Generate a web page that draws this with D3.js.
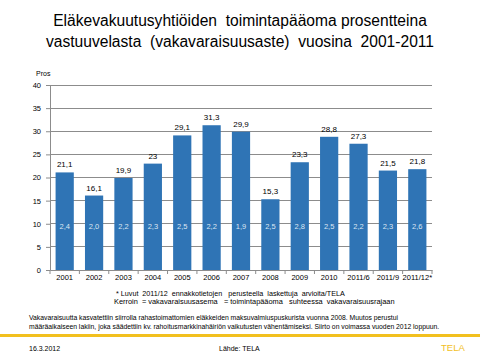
<!DOCTYPE html>
<html><head><meta charset="utf-8">
<script src="https://cdn.jsdelivr.net/npm/d3@7"></script>
<style>body{margin:0;background:#fff}svg{display:block}text{font-family:"Liberation Sans",Arial,sans-serif;white-space:pre}</style>
</head><body>
<svg id="c" width="480" height="360"></svg>
<script>
const categories = ["2001","2002","2003","2004","2005","2006","2007","2008","2009","2010","2011/6","2011/9","2011/12*"];
const values = [21.1,16.1,19.9,23,29.1,31.3,29.9,15.3,23.3,28.8,27.3,21.5,21.8];
const ratios = ["2,4","2,0","2,2","2,3","2,5","2,2","1,9","2,5","2,8","2,5","2,2","2,3","2,6"];
const yTicks = [0,5,10,15,20,25,30,35,40];

const svg = d3.select("#c");
const fmt = v => String(v).replace(".", ",");

const x = d3.scaleBand().domain(categories).range([50, 432]).paddingInner(0.38).paddingOuter(0.19);
const y = d3.scaleLinear().domain([0, 40]).range([270, 85]);

// title
const title = svg.append("text").attr("text-anchor","middle").attr("font-size",15.6).attr("fill","#000");
title.append("tspan").attr("x",240).attr("y",25.5).text("Eläkevakuutusyhtiöiden  toimintapääoma prosentteina");
title.append("tspan").attr("x",240).attr("y",47).text("vastuuvelasta  (vakavaraisuusaste)  vuosina  2001-2011");

// gridlines
svg.append("g").selectAll("line").data(yTicks.filter(d=>d>0)).join("line")
  .attr("x1",50).attr("x2",432).attr("y1",d=>y(d)).attr("y2",d=>y(d))
  .attr("stroke","#8c8c8c").attr("stroke-width",1).attr("shape-rendering","crispEdges");

// bars
svg.append("g").selectAll("rect").data(categories).join("rect")
  .attr("x",d=>x(d)).attr("width",x.bandwidth())
  .attr("y",(d,i)=>y(values[i])).attr("height",(d,i)=>y(0)-y(values[i]))
  .attr("fill","#2f74b5");

// value labels
svg.append("g").selectAll("text").data(categories).join("text")
  .attr("x",d=>x(d)+x.bandwidth()/2).attr("y",(d,i)=>y(values[i])-5)
  .attr("text-anchor","middle").attr("font-size",8).attr("fill","#000")
  .text((d,i)=>fmt(values[i]));

// ratio labels
svg.append("g").selectAll("text").data(categories).join("text")
  .attr("x",d=>x(d)+x.bandwidth()/2).attr("y",y(9.5)+3)
  .attr("text-anchor","middle").attr("font-size",7.5).attr("fill","#dbe6f3")
  .text((d,i)=>ratios[i]);

// y axis
const ya = svg.append("g").attr("transform","translate(50,0)")
  .call(d3.axisLeft(y).tickValues(yTicks).tickSize(4).tickPadding(5));
ya.select(".domain").attr("stroke","#8c8c8c");
ya.selectAll(".tick line").attr("stroke","#8c8c8c");
ya.selectAll("text").attr("font-size",7.5).attr("fill","#000").attr("font-family","Liberation Sans, Arial, sans-serif");

// x axis
const xa = svg.append("g").attr("transform","translate(0,270)")
  .call(d3.axisBottom(x).tickSize(0).tickPadding(5));
xa.select(".domain").attr("stroke","#8c8c8c");
xa.selectAll("text").attr("font-size",7.5).attr("fill","#000").attr("font-family","Liberation Sans, Arial, sans-serif");
// x ticks at band boundaries
const step = x.step();
const edges = categories.map(d=>x(d)-x.paddingInner()*step/2).concat([432]);
svg.append("g").selectAll("line").data(edges).join("line")
  .attr("x1",d=>d).attr("x2",d=>d).attr("y1",270).attr("y2",274)
  .attr("stroke","#8c8c8c");

svg.append("text").attr("x",36).attr("y",76).attr("font-size",7).attr("fill","#000").text("Pros");

// footnotes
svg.append("text").attr("x",116).attr("y",296).attr("font-size",7.2).attr("fill","#000")
  .text("* Luvut  2011/12  ennakkotietojen   perusteella  laskettuja  arvioita/TELA");
svg.append("text").attr("x",114).attr("y",304).attr("font-size",7.4).attr("fill","#000")
  .text("Kerroin  = vakavaraisuusasema   = toimintapääoma   suhteessa  vakavaraisuusrajaan");

svg.append("text").attr("x",29).attr("y",320).attr("font-size",6.8).attr("fill","#000")
  .text("Vakavaraisuutta kasvatettiin siirrolla rahastoimattomien eläkkeiden maksuvalmiuspuskurista vuonna 2008. Muutos perustui");
svg.append("text").attr("x",29).attr("y",329).attr("font-size",6.8).attr("fill","#000")
  .text("määräaikaiseen lakiin, joka säädettiin kv. rahoitusmarkkinahäiriön vaikutusten vähentämiseksi. Siirto on voimassa vuoden 2012 loppuun.");

svg.append("rect").attr("x",0).attr("y",334).attr("width",480).attr("height",3).attr("fill","#f2c01e");

svg.append("text").attr("x",29).attr("y",351).attr("font-size",7).attr("fill","#000").text("16.3.2012");
svg.append("text").attr("x",219).attr("y",351).attr("font-size",7).attr("fill","#000").text("Lähde: TELA");
svg.append("text").attr("x",441).attr("y",351).attr("font-size",9.5).attr("fill","#f2c01e").text("TELA");
</script>
</body></html>
